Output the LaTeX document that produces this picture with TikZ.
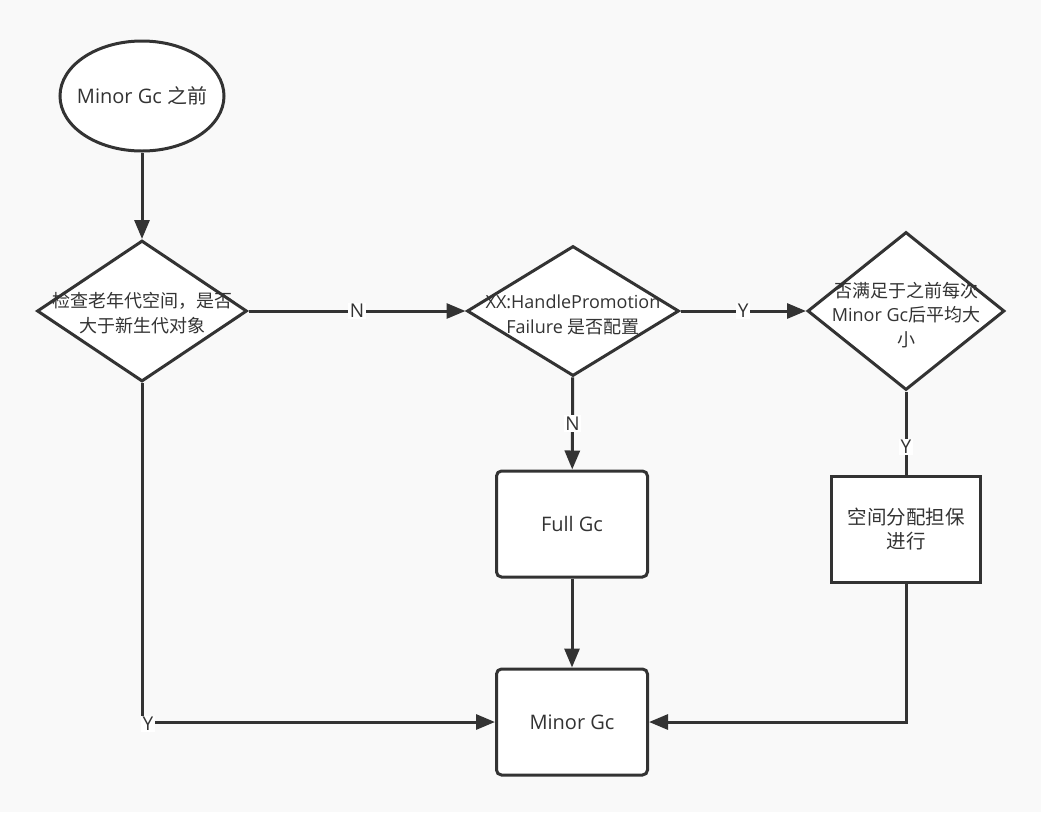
\documentclass[tikz,border=0pt]{standalone}
\usepackage{fontspec}
\setmainfont{Open Sans}
\newfontfamily\cjk{Noto Sans CJK SC}
\usetikzlibrary{positioning, calc}
\usetikzlibrary{arrows.meta}
\usetikzlibrary{shapes.geometric}
\definecolor{grigiolinea}{HTML}{333333}
\definecolor{sfondo}{HTML}{F9F9F9}

\begin{document}
\begin{tikzpicture}[x = 1pt, y = -1pt,
    bordo/.style = {draw=grigiolinea, line width=3pt, fill=white, text=grigiolinea,
                    font=\fontsize{20}{24}\selectfont},
    rombo/.style = {bordo, diamond, inner sep=0pt},
    testo/.style = {align=center, text=grigiolinea, font=\fontsize{18}{24.5}\selectfont},
    freccia/.style = {draw=grigiolinea, line width=3pt, -{Triangle[length=19pt, width=15pt]}},
    collegamento/.style = {draw=grigiolinea, line width=3pt},
    etich/.style = {fill=white, inner sep=1.5pt, text=grigiolinea, font=\fontsize{19}{19}\selectfont}]

    % Sfondo
    \fill[sfondo] (0,0) rectangle (1041,812);
    \useasboundingbox (0,0) rectangle (1041,812);

    % Inizio
    \node[bordo, ellipse, minimum width=164pt, minimum height=110pt, inner sep=0pt,
          label={[testo, font=\fontsize{20}{24}\selectfont]center:{Minor Gc {\cjk 之前}}}] (inizio) at (142,96) {};

    % Decisioni
    \node[rombo, minimum width=210pt, minimum height=141pt,
          label={[testo, yshift=-2pt]center:{\cjk 检查老年代空间，是否\\\cjk 大于新生代对象}}] (vecchia) at (142,311) {};
    \node[rombo, minimum width=212pt, minimum height=130pt,
          label={[testo, yshift=-4pt]center:{XX:HandlePromotion\\Failure {\cjk 是否配置}}}] (handle) at (573,311) {};
    \node[rombo, minimum width=197pt, minimum height=158pt,
          label={[testo, yshift=-4pt]center:{\cjk 否满足于之前每次\\Minor Gc{\cjk 后平均大}\\\cjk 小}}] (media) at (906,311) {};

    % Blocchi
    \node[bordo, rounded corners=5pt, minimum width=151pt, minimum height=106pt] (full) at (572,524) {Full Gc};
    \node[bordo, minimum width=149pt, minimum height=106pt, align=center, font=\cjk\fontsize{19.5}{24}\selectfont]
        (garanzia) at (906,529) {空间分配担保\\进行};
    \node[bordo, rounded corners=5pt, minimum width=151pt, minimum height=106pt] (minor) at (572,722) {Minor Gc};

    % Collegamenti
    \draw[freccia] (inizio) -- (vecchia);
    \draw[freccia] (vecchia) -- node[etich] {N} (handle);
    \draw[freccia] (handle) -- node[etich] {Y} (media);
    \draw[freccia] (handle) -- node[etich] {N} (full);
    \draw[collegamento] (media) -- node[etich, pos=0.67] {Y} (garanzia);
    \draw[freccia] (full) -- (minor);
    \draw[freccia] (garanzia) |- (minor);
    \draw[freccia] (vecchia) |- node[etich, pos=0.5, xshift=6pt, yshift=-2pt] {Y} (minor);

\end{tikzpicture}
\end{document}
